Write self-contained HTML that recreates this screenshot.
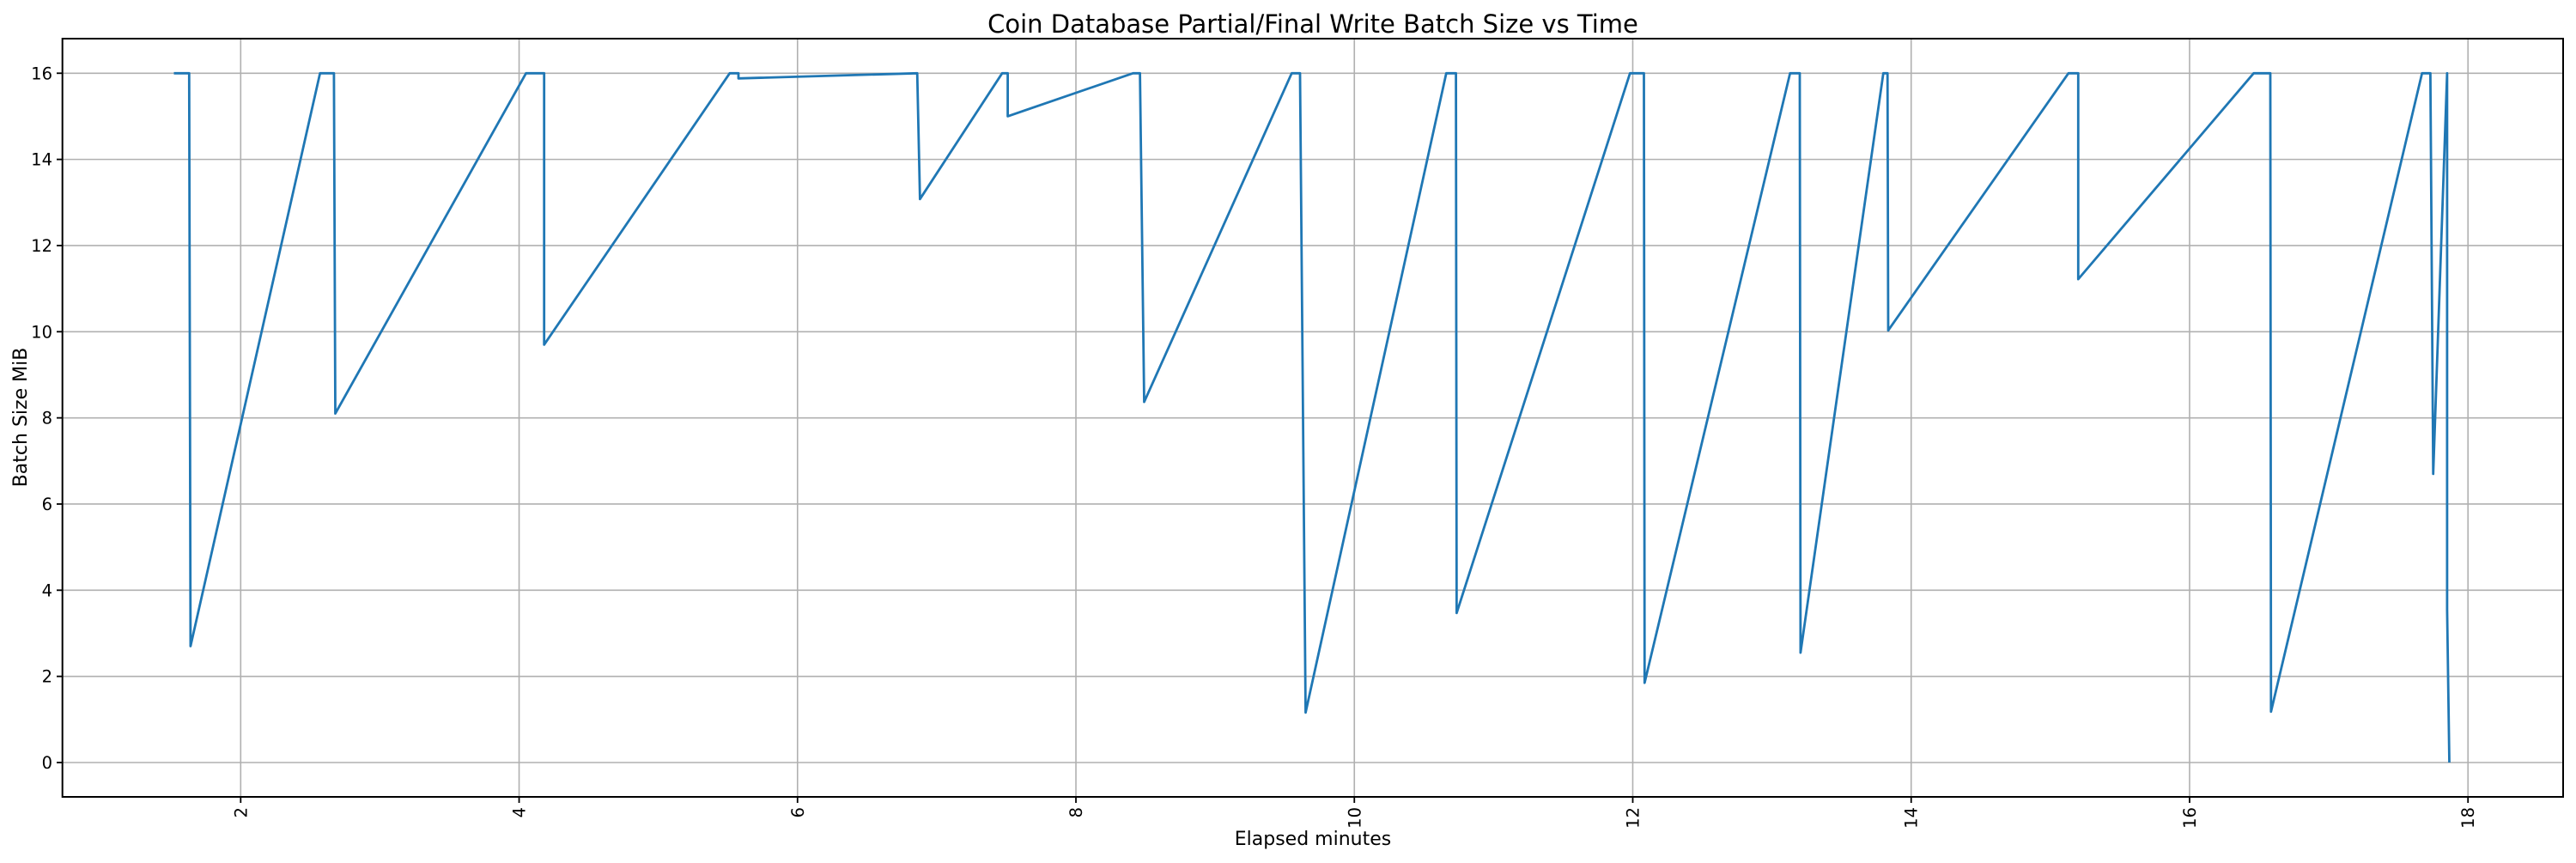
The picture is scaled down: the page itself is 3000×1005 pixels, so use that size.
<!DOCTYPE html>
<html><head><meta charset="utf-8"><style>
html,body{margin:0;padding:0;background:#fff;}
svg text{font-family:"DejaVu Sans","Liberation Sans",sans-serif;fill:#000;}
</style></head><body>
<svg id="s" xmlns="http://www.w3.org/2000/svg" width="3000" height="1000" viewBox="0 0 3000 1000">
<rect width="3000" height="1000" fill="#fff"/>
<g id="grid" stroke="#b0b0b0" stroke-width="1.6"></g>
<polyline id="line" fill="none" stroke="#1f77b4" stroke-width="2.8" stroke-linejoin="round"/>
<rect x="72.7" y="45" width="2912.3" height="883" fill="none" stroke="#000" stroke-width="2"/>
<g id="ticks" stroke="#000" stroke-width="1.8"></g>
<g id="labels" font-size="19.5"></g>
<text x="1529" y="38" font-size="29" text-anchor="middle">Coin Database Partial/Final Write Batch Size vs Time</text>
<text x="1529" y="984" font-size="22" text-anchor="middle">Elapsed minutes</text>
<text transform="translate(31,486) rotate(-90)" font-size="22" text-anchor="middle">Batch Size MiB</text>
</svg>
<script>
var NS="http://www.w3.org/2000/svg";
function X(x){return 280.3+(x-2)*162.12;}
function Y(y){return 888-y*50.17;}
var g=document.getElementById('grid'),t=document.getElementById('ticks'),l=document.getElementById('labels');
function el(p,n,a){var e=document.createElementNS(NS,n);for(var k in a)e.setAttribute(k,a[k]);p.appendChild(e);return e;}
for(var x=2;x<=18;x+=2){var px=X(x);
 el(g,'line',{x1:px,x2:px,y1:45,y2:928});
 el(t,'line',{x1:px,x2:px,y1:928,y2:935});
 var tx=el(l,'text',{transform:'translate('+(px+7)+',940) rotate(-90)','text-anchor':'end'});tx.textContent=x;}
for(var y=0;y<=16;y+=2){var py=Y(y);
 el(g,'line',{x1:72.7,x2:2985,y1:py,y2:py});
 el(t,'line',{x1:66,x2:72.7,y1:py,y2:py});
 var ty=el(l,'text',{x:61,y:py+7,'text-anchor':'end'});ty.textContent=y;}
var d=[[1.52,16],[1.63,16],[1.64,2.7],[2.57,16],[2.67,16],[2.68,8.1],[4.05,16],[4.18,16],[4.18,9.7],[5.513,16],[5.576,16],[5.576,15.88],[6.86,16],[6.88,13.08],[7.47,16],[7.51,16],[7.51,15.0],[8.41,16],[8.46,16],[8.49,8.37],[9.55,16],[9.61,16],[9.65,1.16],[10.66,16],[10.73,16],[10.735,3.47],[11.98,16],[12.08,16],[12.085,1.85],[13.13,16],[13.20,16],[13.205,2.55],[13.80,16],[13.83,16],[13.835,10.03],[15.13,16],[15.20,16],[15.20,11.22],[16.46,16],[16.58,16],[16.585,1.18],[17.67,16],[17.73,16],[17.75,6.70],[17.85,16],[17.85,3.55],[17.866,0]];
document.getElementById('line').setAttribute('points',d.map(function(p){return X(p[0]).toFixed(1)+','+Y(p[1]).toFixed(1);}).join(' '));
</script>
</body></html>
